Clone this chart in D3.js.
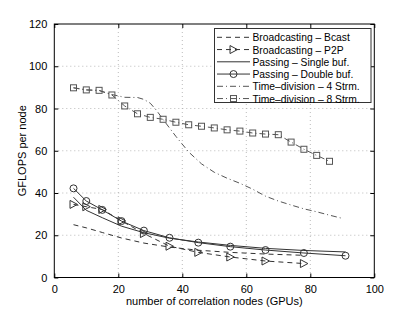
<!DOCTYPE html>
<html><head><meta charset="utf-8">
<script src="https://cdn.jsdelivr.net/npm/d3@7"></script>
<style>body{margin:0;background:#fff}svg{display:block}text{font-family:"Liberation Sans",Arial,sans-serif;}</style>
</head><body><svg id="c" width="415" height="313"></svg>
<script>
const xTicks = [0,20,40,60,80,100];
const yTicks = [0,20,40,60,80,100,120];
const xTri = [6,10,15,21,28,36,45,55,66,78,91];
const bcast = [25,23.5,21.3,18.7,16.3,14.4,12.9,11.9,11.1,10.5];
const p2p = [34.6,33.5,32.2,26.8,20.8,14.8,11.9,9.7,7.8,6.6];
const single = [38,31.8,28.3,24.3,21.2,18.6,16.8,15.2,13.8,12.8,12.1];
const dbl = [42.2,36.2,32,26.7,22.2,18.8,16.5,14.6,13,11.6,10.3];
const x4 = [6,10,14,18,22,26,28,30,32,34,38,42,46,50,54,58,62,66,70,74,78,82,86,90];
const strm4 = [89.8,88.8,88.5,86.6,85.3,85.2,84.3,82.5,79,74.8,66.8,59.4,53.8,49.8,47,44.6,41.8,38.5,36.2,34.3,32.5,31.1,29.5,28];
const x8 = [6,10,14,18,22,26,30,34,38,42,46,50,54,58,62,66,70,74,78,82,86];
const strm8 = [89.8,88.8,88.6,86.4,81.2,77.5,75.8,74.9,73.5,72.3,71.6,70.8,69.9,69.3,68.4,67.9,67.6,64.1,60.7,57.8,55];
const labels = ["Broadcasting \u2013 Bcast","Broadcasting \u2013 P2P","Passing \u2013 Single buf.","Passing \u2013 Double buf.","Time\u2013division \u2013 4 Strm.","Time\u2013division \u2013 8 Strm."];

const series = [
  {xs:xTri, ys:bcast, dash:"5,4", marker:null, color:"#333"},
  {xs:xTri, ys:p2p, dash:"5,4", marker:"tri", color:"#333"},
  {xs:xTri, ys:single, dash:null, marker:null, color:"#333"},
  {xs:xTri, ys:dbl, dash:null, marker:"circle", color:"#333"},
  {xs:x4, ys:strm4, dash:"6,3,1,3", marker:null, color:"#555"},
  {xs:x8, ys:strm8, dash:"6,3,1,3", marker:"square", color:"#555"}
];

const svg = d3.select("#c");
const L=54.3, R=374.3, T=24, B=277.5;
const x = d3.scaleLinear().domain([0,100]).range([L,R]);
const y = d3.scaleLinear().domain([0,120]).range([B,T]);

// grid
const g = svg.append("g");
xTicks.slice(1,-1).forEach(t=>g.append("line").attr("x1",x(t)).attr("x2",x(t)).attr("y1",T).attr("y2",B)
  .attr("stroke","#aaa").attr("stroke-width",0.8).attr("stroke-dasharray","1,3"));
yTicks.slice(1,-1).forEach(t=>g.append("line").attr("x1",L).attr("x2",R).attr("y1",y(t)).attr("y2",y(t))
  .attr("stroke","#aaa").attr("stroke-width",0.8).attr("stroke-dasharray","1,3"));

// axes
const xa = svg.append("g").attr("transform",`translate(0,${B})`)
  .call(d3.axisBottom(x).tickValues(xTicks).tickSizeInner(-4).tickSizeOuter(0).tickPadding(8));
const ya = svg.append("g").attr("transform",`translate(${L},0)`)
  .call(d3.axisLeft(y).tickValues(yTicks).tickSizeInner(-4).tickSizeOuter(0).tickPadding(7));
const xt = svg.append("g").attr("transform",`translate(0,${T})`)
  .call(d3.axisTop(x).tickValues(xTicks).tickSizeInner(-4).tickSizeOuter(0).tickFormat(""));
const yr = svg.append("g").attr("transform",`translate(${R},0)`)
  .call(d3.axisRight(y).tickValues(yTicks).tickSizeInner(-4).tickSizeOuter(0).tickFormat(""));
[xa,ya,xt,yr].forEach(a=>{a.select(".domain").remove();a.selectAll("line").attr("stroke","#000");
  a.selectAll("text").attr("font-size",11).attr("fill","#000").attr("font-family","'Liberation Sans',Arial,sans-serif");});
svg.append("rect").attr("x",L).attr("y",T).attr("width",R-L).attr("height",B-T)
  .attr("fill","none").attr("stroke","#000").attr("stroke-width",1);

svg.append("text").attr("x",(L+R)/2).attr("y",305).attr("text-anchor","middle").attr("font-size",11).text("number of correlation nodes (GPUs)");
svg.append("text").attr("transform",`translate(26,${(T+B)/2}) rotate(-90)`).attr("text-anchor","middle").attr("font-size",11).text("GFLOPS per node");

function drawMarker(sel, type, cx, cy, color){
  if(type==="circle") sel.append("circle").attr("cx",cx).attr("cy",cy).attr("r",3.5).attr("fill","none").attr("stroke",color);
  else if(type==="square") sel.append("rect").attr("x",cx-3).attr("y",cy-3).attr("width",6).attr("height",6).attr("fill","none").attr("stroke",color);
  else if(type==="tri") sel.append("path").attr("d",`M${cx-3.5},${cy-4}L${cx+4},${cy}L${cx-3.5},${cy+4}Z`).attr("fill","none").attr("stroke",color);
}

const line = d3.line().x(d=>x(d[0])).y(d=>y(d[1]));
const pl = svg.append("g");
series.forEach(s=>{
  const pts = s.xs.slice(0,s.ys.length).map((v,i)=>[v,s.ys[i]]);
  pl.append("path").attr("d",line(pts)).attr("fill","none").attr("stroke",s.color).attr("stroke-width",1)
    .attr("stroke-dasharray",s.dash);
  if(s.marker) pts.forEach(p=>drawMarker(pl,s.marker,x(p[0]),y(p[1]),s.color));
});

// legend
const lg = svg.append("g");
lg.append("rect").attr("x",214.5).attr("y",28.5).attr("width",156.5).attr("height",74).attr("fill","#fff").attr("stroke","#333");
labels.forEach((lab,i)=>{
  const cy = 37.3 + i*12.25, s = series[i];
  lg.append("line").attr("x1",217).attr("x2",250).attr("y1",cy).attr("y2",cy).attr("stroke",s.color).attr("stroke-dasharray",s.dash);
  if(s.marker) drawMarker(lg,s.marker,233.5,cy,s.color);
  lg.append("text").attr("x",252.5).attr("y",cy+4).attr("font-size",10.3).text(lab);
});
</script></body></html>
